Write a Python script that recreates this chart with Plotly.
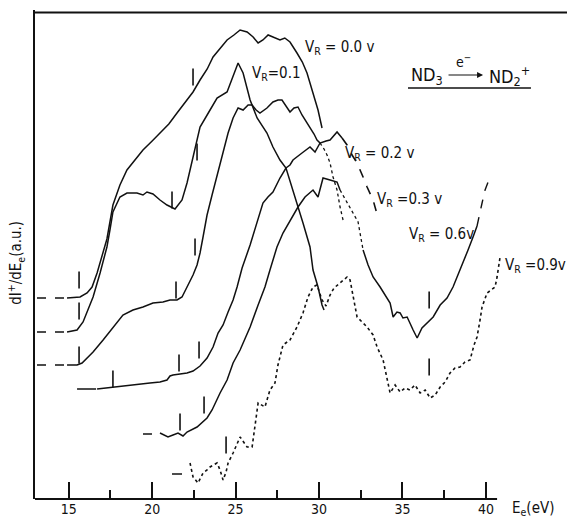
import plotly.graph_objects as go

# ---------------- data (E_e in eV, dI+/dE_e in arbitrary units) ----------------
vr00_x = [14.90, 15.68, 16.10, 16.40, 16.70, 17.06, 17.29, 17.65, 18.07, 18.49, 19.00, 19.45, 20.00, 20.47, 21.00,
          21.49, 22.09, 22.45, 22.87, 23.30, 23.65, 24.10, 24.49, 24.90, 25.27, 25.69, 26.05, 26.35, 26.64, 26.95,
          27.24, 27.66, 27.95, 28.26, 28.68, 29.00, 29.28, 29.64, 29.94, 30.18]
vr00_y = [20.7, 20.8, 21.2, 21.8, 23.2, 25.2, 26.6, 30.0, 32.0, 33.5, 34.6, 35.5, 36.4, 37.2, 38.1,
          39.2, 40.5, 41.3, 42.5, 43.6, 44.8, 45.7, 46.5, 47.0, 47.5, 47.3, 46.8, 46.2, 46.5, 47.0,
          46.8, 46.5, 46.7, 46.3, 45.2, 44.3, 43.2, 41.2, 39.5, 37.7]

vr01_x = [14.90, 15.50, 15.86, 16.16, 16.46, 16.88, 17.29, 17.47, 17.65, 18.07, 18.49, 19.09, 19.45, 19.69, 20.05,
          20.47, 20.89, 21.37, 21.79, 22.09, 22.45, 22.87, 23.47, 23.89, 24.49, 24.85, 25.15, 25.45, 25.87, 26.29,
          26.88, 27.24, 27.66, 28.02, 28.38, 28.74, 29.04, 29.46, 29.64, 29.94, 30.18, 30.30]
vr01_y = [17.3, 17.5, 18.3, 19.5, 20.8, 23.2, 25.8, 27.5, 29.3, 30.8, 31.2, 31.2, 31.0, 31.3, 31.1,
          30.5, 30.0, 29.6, 30.5, 32.2, 34.8, 37.8, 39.5, 40.7, 41.3, 42.8, 44.2, 43.2, 40.5, 38.7,
          37.2, 35.8, 34.5, 33.7, 31.8, 29.8, 28.2, 25.8, 23.5, 21.8, 20.0, 19.5]

vr02_x = [14.90, 15.50, 15.80, 16.10, 16.46, 17.06, 17.65, 18.25, 18.85, 19.45, 20.05, 20.65, 21.07, 21.49, 21.79,
          22.09, 22.45, 22.69, 22.87, 23.05, 23.29, 23.59, 23.89, 24.19, 24.55, 24.85, 25.15, 25.45, 25.75, 25.99,
          26.23, 26.46, 26.88, 27.24, 27.54, 27.78, 28.02, 28.26, 28.50, 28.74, 28.98, 29.22, 29.46, 29.70, 29.88,
          30.06, 30.30, 30.48, 30.66, 30.84, 31.08, 31.26, 31.44]
vr02_y = [14.0, 14.0, 14.2, 14.7, 15.3, 16.5, 17.8, 19.0, 19.5, 19.8, 20.2, 20.3, 20.5, 20.5, 20.8,
          21.8, 23.0, 24.0, 25.2, 26.8, 29.0, 31.0, 33.0, 35.0, 37.2, 38.7, 39.7, 39.5, 40.0, 40.0,
          39.5, 39.2, 39.7, 40.3, 40.5, 40.5, 39.9, 39.3, 39.7, 39.8, 39.0, 38.4, 37.7, 37.1, 36.5,
          36.2, 35.6, 35.0, 34.2, 32.8, 31.5, 29.8, 28.5]

vr03_x = [16.70, 17.65, 18.85, 19.87, 20.47, 20.89, 21.07, 21.25, 21.67, 22.09, 22.45, 22.87, 23.29, 23.65, 23.95,
          24.25, 24.55, 24.85, 25.09, 25.39, 25.87, 26.29, 26.64, 26.94, 27.24, 27.66, 28.02, 28.26, 28.44, 28.98,
          29.22, 29.46, 29.76, 30.06, 30.42, 30.66, 31.08, 31.38, 31.68, 31.98, 32.28, 32.64, 32.88, 33.24, 33.54]
vr03_y = [11.6, 11.8, 12.0, 12.2, 12.3, 12.5, 12.9, 13.0, 13.1, 13.2, 13.4, 13.9, 14.7, 15.8, 17.2,
          18.0, 19.3, 20.5, 21.8, 23.7, 26.0, 28.3, 30.2, 30.8, 31.3, 32.7, 33.7, 34.0, 34.5, 35.2,
          35.5, 35.8, 35.3, 36.2, 36.4, 36.5, 37.3, 36.7, 36.0, 35.0, 34.2, 32.8, 31.8, 30.5, 28.7]

vr06_x = [20.47, 20.95, 21.25, 21.55, 21.85, 22.09, 22.69, 23.29, 23.59, 24.07, 24.49, 24.85, 25.27, 25.69, 25.87,
          26.35, 26.76, 27.06, 27.48, 27.84, 28.38, 28.74, 29.16, 29.64, 29.94, 30.24, 30.66, 31.08, 31.26, 31.68,
          32.04, 32.34, 32.64, 32.94, 33.24, 33.66, 34.26, 34.44, 34.67, 34.86, 35.03, 35.28, 35.64, 35.88, 36.17,
          36.48, 36.84, 37.26, 37.67, 38.03, 38.33, 38.57, 38.93, 39.23, 39.47, 39.65, 39.77, 39.95, 40.13]
vr06_y = [7.2, 6.8, 7.0, 7.2, 6.9, 7.3, 7.8, 8.7, 9.5, 11.2, 12.5, 14.2, 15.5, 17.0, 17.8,
          20.0, 21.8, 23.5, 25.8, 27.2, 28.8, 29.8, 30.8, 31.5, 30.8, 32.7, 32.5, 32.3, 31.5, 30.2,
          29.2, 28.3, 25.5, 24.0, 22.8, 21.8, 20.2, 18.8, 19.3, 19.2, 18.7, 18.8, 17.5, 16.7, 17.7,
          18.2, 18.8, 20.0, 20.7, 21.8, 23.0, 24.0, 25.5, 26.8, 27.9, 29.5, 30.2, 31.5, 32.3]

vr09_x = [22.27, 22.45, 22.75, 23.05, 23.29, 23.47, 23.89, 24.07, 24.25, 24.43, 24.55, 24.85, 25.27, 25.69, 25.99,
          26.17, 26.35, 26.76, 27.06, 27.36, 27.54, 27.84, 28.26, 28.68, 29.04, 29.34, 29.64, 29.88, 30.18, 30.42,
          30.66, 30.90, 31.26, 31.68, 31.86, 32.04, 32.28, 32.58, 32.88, 33.24, 33.48, 33.84, 34.08, 34.26, 34.56,
          34.86, 35.16, 35.45, 35.75, 36.06, 36.36, 36.66, 36.96, 37.26, 37.56, 37.85, 38.15, 38.45, 38.75, 39.05,
          39.29, 39.47, 39.65, 39.77, 40.07, 40.55, 40.67, 40.85]
vr09_y = [4.2, 2.8, 2.2, 3.2, 3.5, 3.8, 4.2, 3.5, 2.5, 3.3, 4.2, 5.2, 6.8, 5.8, 5.8,
          8.2, 10.2, 9.8, 11.5, 12.2, 14.0, 16.0, 16.5, 17.8, 19.2, 20.8, 21.8, 22.0, 20.5, 19.9,
          21.0, 21.7, 22.2, 22.8, 22.5, 20.8, 18.8, 18.3, 17.8, 17.0, 15.8, 14.5, 12.5, 11.2, 12.0,
          11.3, 11.7, 11.5, 12.0, 11.2, 11.5, 10.7, 11.0, 11.8, 12.3, 13.2, 13.7, 13.8, 14.3, 14.5,
          16.0, 16.8, 18.5, 19.8, 21.2, 21.8, 22.8, 24.8]

# baselines drawn at the start of each curve: (x_start, x_end, level)
base_x0 = [13.10, 13.10, 13.10, 15.50, 19.45, 21.19]
base_x1 = [14.90, 14.90, 14.90, 16.64, 19.99, 21.79]
base_y = [20.7, 17.3, 14.0, 11.6, 7.1, 3.1]

# threshold markers "I"
mark_x = [15.62, 22.45, 15.62, 21.19, 22.69, 15.62, 21.43, 22.57, 17.65, 21.61, 22.81, 21.67, 23.11, 36.60, 24.43, 36.60]
mark_y = [22.5, 42.8, 19.4, 30.5, 35.3, 15.0, 21.5, 25.8, 12.6, 14.2, 15.5, 8.3, 10.0, 20.5, 6.0, 13.8]

x_ticks = [15, 20, 25, 30, 35, 40]
x_minor = [17.5, 22.5, 27.5, 32.5, 37.5]
labels = ["V<sub>R</sub> = 0.0 v", "V<sub>R</sub>=0.1", "V<sub>R</sub> = 0.2 v", "V<sub>R</sub> =0.3 v",
          "V<sub>R</sub> = 0.6v", "V<sub>R</sub> =0.9v"]
label_x = [29.04, 25.87, 31.44, 33.36, 35.28, 41.0]
label_y = [45.8, 43.2, 35.2, 30.6, 27.1, 24.0]

# ---------------- figure ----------------
INK = "#111111"
FONT = "DejaVu Sans Condensed, Liberation Sans, Arial, sans-serif"
fig = go.Figure()


def seg(xs, ys, lo, hi, dash="solid", width=1.5):
    px = [x for x in xs if lo <= x <= hi]
    py = [y for x, y in zip(xs, ys) if lo <= x <= hi]
    fig.add_trace(go.Scatter(x=px, y=py, mode="lines", line=dict(color=INK, width=width, dash=dash),
                             hoverinfo="skip", showlegend=False))


seg(vr00_x, vr00_y, 0, 99)
seg(vr01_x, vr01_y, 0, 99)
seg(vr02_x, vr02_y, 0, 30.06)
seg(vr02_x, vr02_y, 30.06, 99, dash="dot", width=1.3)
seg(vr03_x, vr03_y, 0, 31.38)
seg(vr03_x, vr03_y, 31.38, 99, dash="dash", width=1.6)
seg(vr06_x, vr06_y, 0, 31.26)
seg(vr06_x, vr06_y, 31.26, 32.64, dash="dot", width=1.3)
seg(vr06_x, vr06_y, 32.64, 39.47)
seg(vr06_x, vr06_y, 39.47, 99, dash="dash", width=1.4)
seg(vr09_x, vr09_y, 0, 99, dash="dot", width=1.6)

for i in range(len(base_y)):
    fig.add_trace(go.Scatter(x=[base_x0[i], base_x1[i]], y=[base_y[i], base_y[i]], mode="lines",
                             line=dict(color=INK, width=1.5, dash="dash" if i < 3 else "solid"),
                             hoverinfo="skip", showlegend=False))

fig.add_trace(go.Scatter(x=mark_x, y=mark_y, mode="markers",
                         marker=dict(symbol="line-ns", size=12, line=dict(color=INK, width=1.6)),
                         hoverinfo="skip", showlegend=False))

for t, x, y in zip(labels, label_x, label_y):
    fig.add_annotation(x=x, y=y, text=t, showarrow=False, xanchor="left", yanchor="middle",
                       font=dict(family=FONT, size=15, color=INK))

# reaction scheme
fig.add_annotation(x=37.55, y=42.9, text="ND<sub>3</sub>", showarrow=False, xanchor="right", yanchor="middle",
                   font=dict(family=FONT, size=18, color=INK))
fig.add_annotation(x=40.07, y=42.9, text="ND<sub>2</sub><sup>+</sup>", showarrow=False, xanchor="left",
                   yanchor="middle", font=dict(family=FONT, size=18, color=INK))
fig.add_annotation(x=39.83, y=43.0, ax=37.67, ay=43.0, axref="x", ayref="y", text="", showarrow=True,
                   arrowhead=2, arrowsize=1, arrowwidth=1.2, arrowcolor=INK)
fig.add_annotation(x=38.63, y=44.4, text="e<sup>−</sup>", showarrow=False, xanchor="center", yanchor="middle",
                   font=dict(family=FONT, size=14, color=INK))
fig.add_shape(type="line", x0=35.33, x1=42.70, y0=41.7, y1=41.7, line=dict(color=INK, width=1.5))

# frame lines
fig.add_shape(type="line", xref="x", yref="paper", x0=12.98, x1=40.67, y0=0, y1=0, line=dict(color=INK, width=2.2))
fig.add_shape(type="line", xref="paper", yref="paper", x0=0, x1=1, y0=0.995, y1=0.995,
              line=dict(color=INK, width=2))

# axis titles
fig.add_annotation(xref="paper", yref="paper", x=0.893, y=-0.0204, text="E<sub>e</sub>(eV)", showarrow=False,
                   xanchor="left", yanchor="middle", font=dict(family=FONT, size=15, color=INK))
fig.add_annotation(xref="paper", yref="paper", x=-0.0357, y=0.483, text="dI<sup>+</sup>/dE<sub>e</sub>(a.u.)",
                   showarrow=False, textangle=-90, xanchor="center", yanchor="middle",
                   font=dict(family=FONT, size=15, color=INK))

fig.update_layout(
    width=567, height=517, margin=dict(l=35, r=0, t=10, b=18, autoexpand=False),
    paper_bgcolor="white", plot_bgcolor="white", showlegend=False,
    xaxis=dict(range=[12.98, 44.86], showgrid=False, zeroline=False, showline=False,
               tickvals=x_ticks, ticks="inside", ticklen=17, tickwidth=1.5, tickcolor=INK,
               minor=dict(tickvals=x_minor, ticks="inside", ticklen=9, tickwidth=1.5, tickcolor=INK),
               tickfont=dict(family=FONT, size=14, color=INK)),
    yaxis=dict(range=[0.6, 49.5], showgrid=False, zeroline=False, showline=True, linecolor=INK, linewidth=2,
               showticklabels=False, ticks=""),
)

fig.write_html("out.html", config={"displayModeBar": False},
               post_script="document.body.style.margin='0';document.body.style.overflow='hidden';")
